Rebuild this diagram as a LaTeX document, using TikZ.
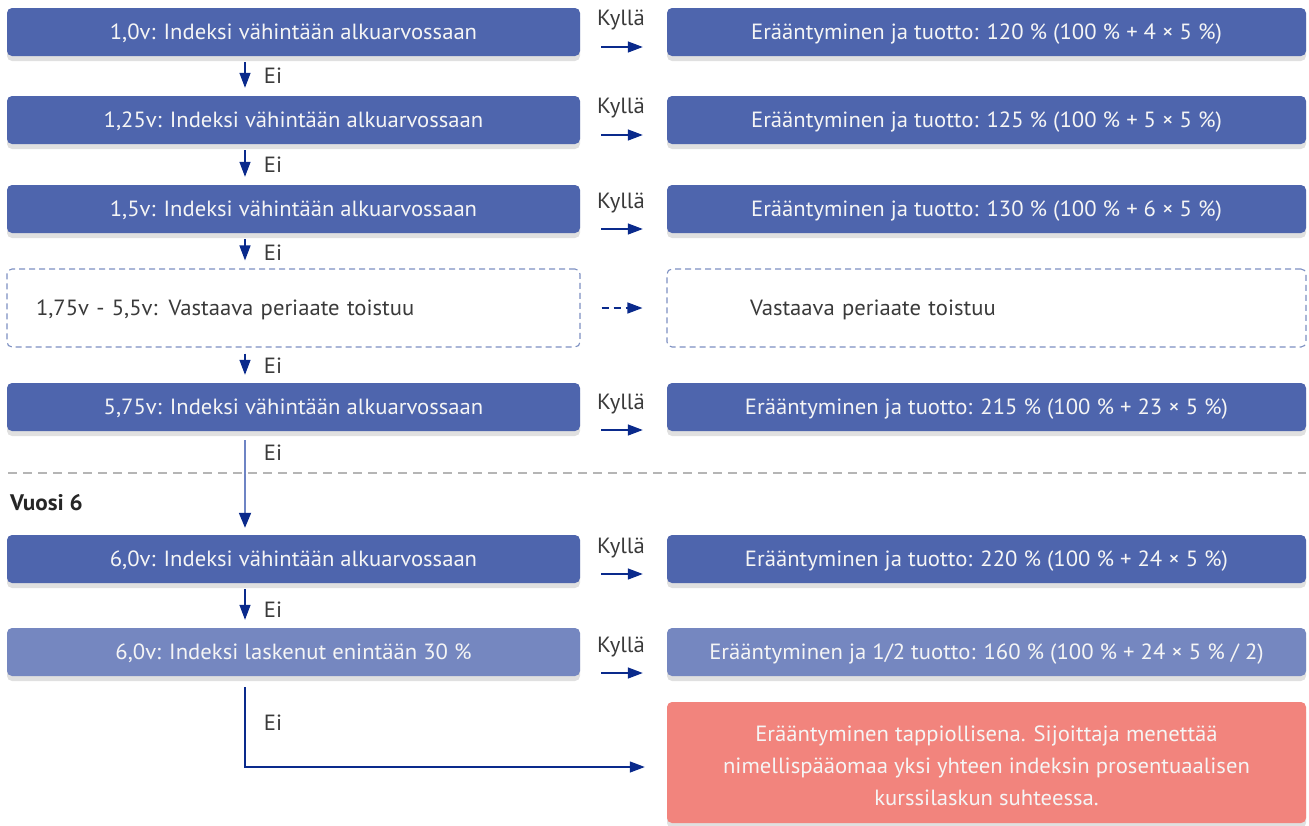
\documentclass[tikz,border=0pt]{standalone}
\usepackage{fontspec}
\setmainfont[FakeStretch=1.03]{PT Sans}
\usetikzlibrary{arrows.meta,calc,shadows}
\definecolor{boxblue}{HTML}{4E65AD}
\definecolor{boxlight}{HTML}{7587C0}
\definecolor{boxred}{HTML}{F2847D}
\definecolor{arrowblue}{HTML}{0A2A8C}
\definecolor{longline}{HTML}{6E84C4}
\definecolor{dashborder}{HTML}{7D90C2}
\definecolor{labelgray}{HTML}{3A3A3A}
\definecolor{sepgray}{HTML}{B5B5B5}
\begin{document}
\begin{tikzpicture}[x=1pt,y=-1pt,
  font=\fontsize{22}{26}\selectfont,
  filled/.style={rounded corners=5pt, minimum height=48pt, inner sep=0pt,
    text=white!96!black, text height=15pt, text depth=0pt,
    drop shadow={shadow xshift=0pt, shadow yshift=-5pt, opacity=0.12, fill=black}},
  leftbox/.style={filled, fill=boxblue, minimum width=573pt},
  leftlight/.style={filled, fill=boxlight, minimum width=573pt},
  rightbox/.style={filled, fill=boxblue, minimum width=639pt},
  rightlight/.style={filled, fill=boxlight, minimum width=639pt},
  redbox/.style={filled, fill=boxred, minimum width=639pt, minimum height=121pt, align=center,
    text height=85pt, text depth=0pt, font=\fontsize{22}{32}\selectfont},
  dashbox/.style={draw=dashborder, line width=1.1pt, dash pattern=on 6pt off 4pt,
    rounded corners=5pt, minimum height=78pt, text=labelgray, align=left,
    text height=15pt, text depth=0pt},
  lbl/.style={text=labelgray, inner sep=0pt},
  arr/.style={draw=arrowblue, line width=1.3pt, -{Triangle[length=15pt,width=11pt]}},
  harr/.style={arr, shorten <=21pt, shorten >=24pt},
  varr/.style={arr, shorten <=6pt, shorten >=8pt},
]
\useasboundingbox (0,0) rectangle (1309,825);
\fill[white] (0,0) rectangle (1309,825);
\coordinate (axis) at (245,0);

% left column
\node[leftbox] (r1) at (293.5,32) {1,0v: Indeksi vähintään alkuarvossaan};
\node[leftbox] (r2) at (293.5,120) {1,25v: Indeksi vähintään alkuarvossaan};
\node[leftbox] (r3) at (293.5,209) {1,5v: Indeksi vähintään alkuarvossaan};
\node[dashbox, minimum width=573pt, text width=515pt, inner xsep=29pt] (r4) at (293.5,308) {1,75v - 5,5v: Vastaava periaate toistuu};
\node[leftbox] (r5) at (293.5,407) {5,75v: Indeksi vähintään alkuarvossaan};
\node[leftbox] (r6) at (293.5,559) {6,0v: Indeksi vähintään alkuarvossaan};
\node[leftlight] (r7) at (293.5,652) {6,0v: Indeksi laskenut enintään 30 \%};

% right column
\node[rightbox] (p1) at (986.5,32) {Erääntyminen ja tuotto: 120 \% (100 \% + 4 × 5 \%)};
\node[rightbox] (p2) at (986.5,120) {Erääntyminen ja tuotto: 125 \% (100 \% + 5 × 5 \%)};
\node[rightbox] (p3) at (986.5,209) {Erääntyminen ja tuotto: 130 \% (100 \% + 6 × 5 \%)};
\node[dashbox, minimum width=639pt, text width=473pt, inner xsep=83pt] (p4) at (986.5,308) {Vastaava periaate toistuu};
\node[rightbox] (p5) at (986.5,407) {Erääntyminen ja tuotto: 215 \% (100 \% + 23 × 5 \%)};
\node[rightbox] (p6) at (986.5,559) {Erääntyminen ja tuotto: 220 \% (100 \% + 24 × 5 \%)};
\node[rightlight] (p7) at (986.5,652) {Erääntyminen ja 1/2 tuotto: 160 \% (100 \% + 24 × 5 \% / 2)};
\node[redbox] (loss) at (986.5,762.5) {Erääntyminen tappiollisena. Sijoittaja menettää\\nimellispääomaa yksi yhteen indeksin prosentuaalisen\\kurssilaskun suhteessa.};

% separator
\draw[sepgray, line width=1.2pt, dash pattern=on 9pt off 6pt] (8,473) coordinate (s1) -- (1306,473) coordinate (s2);
\node[anchor=west, text=black!85, font=\fontsize{22.5}{26}\selectfont\bfseries, inner sep=0pt] (year) at (10,503) {Vuosi 6};

% vertical arrows
\draw[varr] (r1.south -| axis) -- (r2.north -| axis);
\draw[varr] (r2.south -| axis) -- (r3.north -| axis);
\draw[varr] (r3.south -| axis) -- (r4.north -| axis);
\draw[varr] (r4.south -| axis) -- (r5.north -| axis);
\draw[line width=1.8pt, draw=longline, -{Triangle[length=15pt,width=12pt,color=arrowblue]}, shorten <=9pt, shorten >=7pt] (r5.south -| axis) -- (r6.north -| axis);
\draw[varr] (r6.south -| axis) -- (r7.north -| axis);
\draw[arr, shorten <=11pt, shorten >=22pt] (r7.south -| axis) |- ($(loss.west)+(0,4.5)$);

% horizontal arrows
\draw[harr] ($(r1.east)+(0,15)$) -- ($(p1.west)+(0,15)$);
\draw[harr] ($(r2.east)+(0,15)$) -- ($(p2.west)+(0,15)$);
\draw[harr] ($(r3.east)+(0,20)$) -- ($(p3.west)+(0,20)$);
\draw[harr, dash pattern=on 7pt off 5pt] (r4.east) -- (p4.west);
\draw[harr] ($(r5.east)+(0,23)$) -- ($(p5.west)+(0,23)$);
\draw[harr] ($(r6.east)+(0,15)$) -- ($(p6.west)+(0,15)$);
\draw[harr] ($(r7.east)+(0,21)$) -- ($(p7.west)+(0,21)$);

% labels
\node[lbl] (e1) at (273,76) {Ei};
\node[lbl] (e2) at (273,165) {Ei};
\node[lbl] (e3) at (273,253) {Ei};
\node[lbl] (e4) at (273,366) {Ei};
\node[lbl] (e5) at (273,453) {Ei};
\node[lbl] (e6) at (273,610) {Ei};
\node[lbl] (e7) at (273,723) {Ei};
\node[lbl] (k1) at (621,20) {Kyllä};
\node[lbl] (k2) at (621,108) {Kyllä};
\node[lbl] (k3) at (621,203) {Kyllä};
\node[lbl] (k5) at (621,404) {Kyllä};
\node[lbl] (k6) at (621,548) {Kyllä};
\node[lbl] (k7) at (621,647) {Kyllä};
\end{tikzpicture}
\end{document}
